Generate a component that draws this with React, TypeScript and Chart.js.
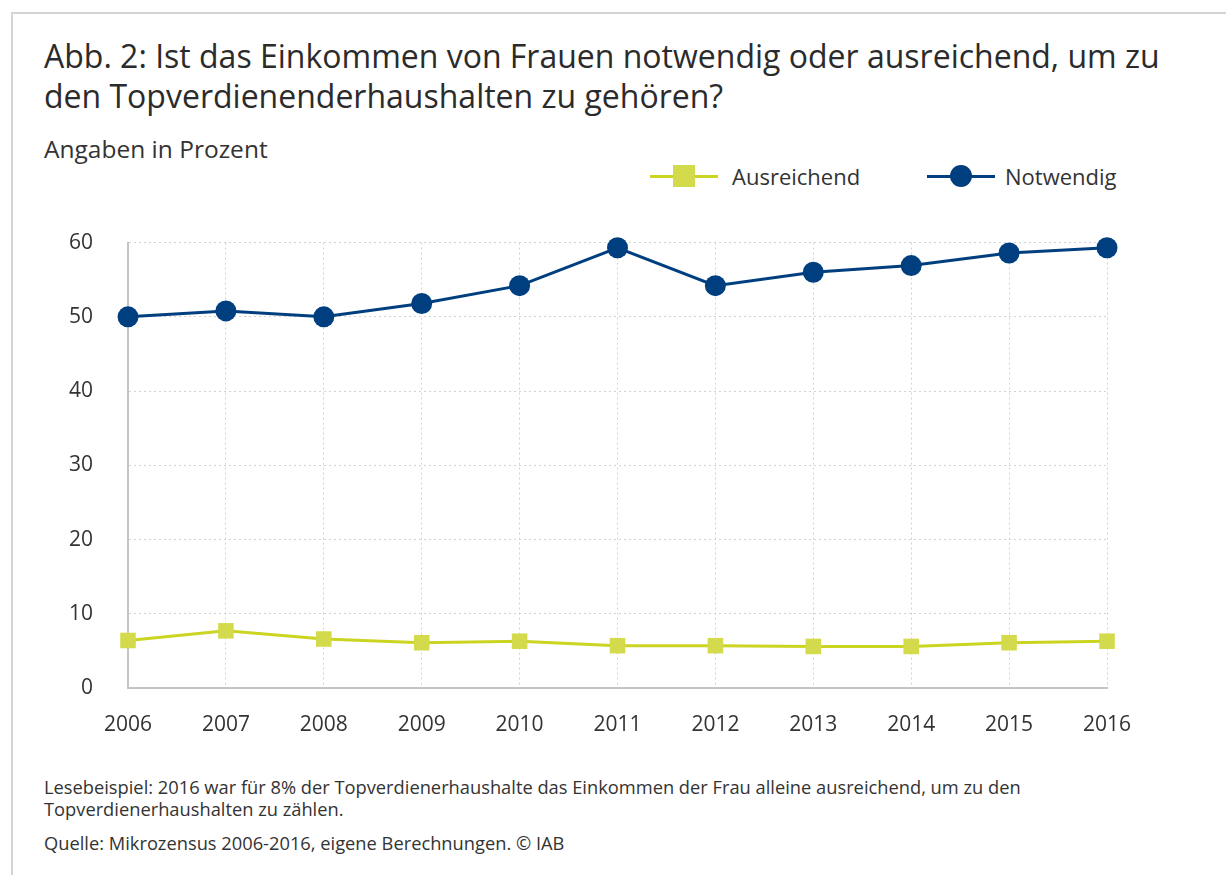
import React, { useEffect, useRef } from "react";
import { Chart, registerables } from "chart.js";

Chart.register(...registerables);

const years = ["2006", "2007", "2008", "2009", "2010", "2011", "2012", "2013", "2014", "2015", "2016"];
const notwendig = [50, 50.8, 50, 51.8, 54.2, 59.3, 54.2, 56.0, 56.9, 58.6, 59.3];
const ausreichend = [6.4, 7.7, 6.6, 6.1, 6.3, 5.7, 5.7, 5.6, 5.6, 6.1, 6.3];
const yTicks = [0, 10, 20, 30, 40, 50, 60];

const titleLines = [
  "Abb. 2: Ist das Einkommen von Frauen notwendig oder ausreichend, um zu",
  "den Topverdienenderhaushalten zu gehören?",
];
const subtitleText = "Angaben in Prozent";
const noteLines = [
  "Lesebeispiel: 2016 war für 8% der Topverdienerhaushalte das Einkommen der Frau alleine ausreichend, um zu den",
  "Topverdienerhaushalten zu zählen.",
];
const sourceText = "Quelle: Mikrozensus 2006-2016, eigene Berechnungen. © IAB";

const BLUE = "#003f7f";
const GREEN_MARK = "#d3db4c";
const GREEN_LINE = "#cbd420";
const TEXT = "#333333";
const FONT = "'Open Sans', sans-serif";

const TICK_SIZE = 21;
const Y_TICK_PAD = 35;
const CANVAS_LEFT = 40;
const CANVAS_TOP = 195;
const CANVAS_W = 1140;
const CANVAS_H = 550;

export default function App() {
  const ref = useRef<HTMLCanvasElement | null>(null);

  useEffect(() => {
    if (!ref.current) return;
    const chart = new Chart(ref.current, {
      type: "line",
      data: {
        labels: years,
        datasets: [
          {
            label: "Ausreichend",
            data: ausreichend,
            borderColor: GREEN_LINE,
            backgroundColor: GREEN_MARK,
            borderWidth: 3,
            pointStyle: "rect",
            pointRadius: 11,
            pointBorderWidth: 0,
            pointBackgroundColor: GREEN_MARK,
            pointBorderColor: GREEN_MARK,
            tension: 0,
            clip: false as any,
          },
          {
            label: "Notwendig",
            data: notwendig,
            borderColor: BLUE,
            backgroundColor: BLUE,
            borderWidth: 3,
            pointStyle: "circle",
            pointRadius: 10.5,
            pointBorderWidth: 0,
            pointBackgroundColor: BLUE,
            pointBorderColor: BLUE,
            tension: 0,
            clip: false as any,
          },
        ],
      },
      options: {
        responsive: false,
        animation: false,
        devicePixelRatio: 1,
        layout: { padding: { top: 0, right: 73, left: 0, bottom: 0 } },
        plugins: { legend: { display: false }, title: { display: false }, tooltip: { enabled: false } },
        scales: {
          x: {
            type: "category",
            offset: false,
            grid: { display: true, color: "#d2d2d2", lineWidth: 1, drawTicks: false },
            border: { display: true, color: "#c4c4c4", width: 2, dash: [2, 3] },
            ticks: { color: TEXT, font: { family: FONT, size: TICK_SIZE }, padding: 24, maxRotation: 0, autoSkip: false },
            afterFit: (s: any) => { s.height = CANVAS_H - (688 - CANVAS_TOP); },
          },
          y: {
            min: 0,
            max: 60,
            afterBuildTicks: (s: any) => { s.ticks = yTicks.map((v) => ({ value: v })); },
            grid: { display: true, color: "#d2d2d2", lineWidth: 1, drawTicks: false },
            border: { display: true, color: "#c4c4c4", width: 2, dash: [2, 3] },
            ticks: { color: TEXT, font: { family: FONT, size: TICK_SIZE }, padding: Y_TICK_PAD },
            afterFit: (s: any) => { s.width = 128 - CANVAS_LEFT; },
          },
        },
      },
    });
    return () => chart.destroy();
  }, []);

  const legendItem = (label: string, color: string, lineColor: string, round: boolean, left: number, gap: number) => (
    <div style={{ position: "absolute", left, top: 161, height: 30, display: "flex", alignItems: "center" }}>
      <div style={{ position: "relative", width: 68, height: 30 }}>
        <div style={{ position: "absolute", left: 0, top: 13.5, width: 68, height: 3, background: lineColor }} />
        <div
          style={{
            position: "absolute",
            left: 23,
            top: 4,
            width: 22,
            height: 22,
            background: color,
            borderRadius: round ? "50%" : 0,
          }}
        />
      </div>
      <span style={{ marginLeft: gap, fontSize: 22, color: TEXT, fontFamily: FONT, whiteSpace: "nowrap" }}>{label}</span>
    </div>
  );

  return (
    <div
      style={{
        position: "absolute",
        left: 0,
        top: 0,
        width: 1226,
        height: 875,
        background: "#ffffff",
        overflow: "hidden",
        fontFamily: FONT,
        color: TEXT,
      }}
    >
      <div
        style={{
          position: "absolute",
          left: 11,
          top: 12,
          width: 1240,
          height: 900,
          borderTop: "2px solid #d4d4d4",
          borderLeft: "2px solid #d4d4d4",
        }}
      />
      <div
        style={{
          position: "absolute",
          left: 44,
          top: 36,
          fontSize: 32,
          lineHeight: "40px",
          color: "#2b2b2b",
          whiteSpace: "nowrap",
        }}
      >
        {titleLines.map((l, i) => (
          <div key={i}>{l}</div>
        ))}
      </div>
      <div style={{ position: "absolute", left: 44, top: 134, fontSize: 24.5, lineHeight: "30px", whiteSpace: "nowrap" }}>
        {subtitleText}
      </div>
      {legendItem("Ausreichend", GREEN_MARK, GREEN_LINE, false, 650, 14)}
      {legendItem("Notwendig", BLUE, BLUE, true, 927, 10)}
      <canvas
        ref={ref}
        width={CANVAS_W}
        height={CANVAS_H}
        style={{ position: "absolute", left: CANVAS_LEFT, top: CANVAS_TOP, width: CANVAS_W, height: CANVAS_H }}
      />
      <div style={{ position: "absolute", left: 44, top: 776, fontSize: 18.3, lineHeight: "22px", whiteSpace: "nowrap" }}>
        {noteLines.map((l, i) => (
          <div key={i}>{l}</div>
        ))}
      </div>
      <div style={{ position: "absolute", left: 44, top: 832, fontSize: 18.3, lineHeight: "22px", whiteSpace: "nowrap" }}>
        {sourceText}
      </div>
    </div>
  );
}
